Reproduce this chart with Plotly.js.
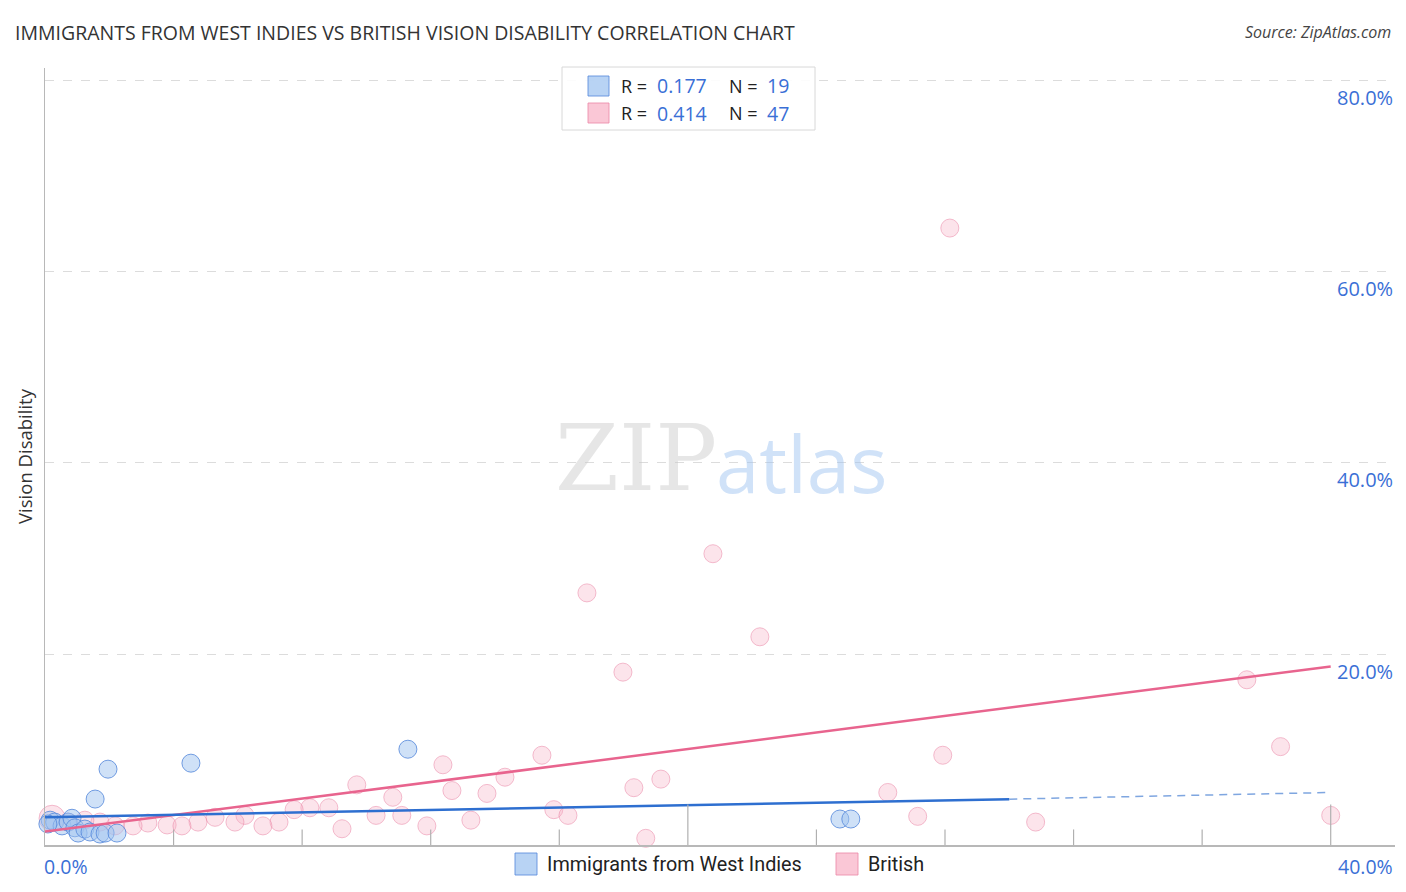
<!DOCTYPE html>
<html>
<head>
<meta charset="utf-8">
<script src="https://cdn.plot.ly/plotly-3.0.1.min.js"></script>
<style>html,body{margin:0;padding:0;background:#fff;}#chart{width:1406px;height:892px;}</style>
</head>
<body>
<div id="chart"></div>
<script>
// ---- data (percent) ----
const seriesNames = ["Immigrants from West Indies", "British"];
const rValues = ["0.177", "0.414"];
const nValues = ["19", "47"];

const blueX = [1.96, 4.54, 1.56, 11.29, 24.73, 25.07, 0.16, 0.30, 0.53, 0.72, 0.84, 0.93, 1.03, 1.24, 1.40, 1.71, 1.87, 2.24, 0.09];
const blueY = [7.94, 8.57, 4.81, 10.03, 2.72, 2.72, 2.6, 2.4, 2.0, 2.4, 2.8, 1.8, 1.25, 1.67, 1.36, 1.15, 1.25, 1.25, 2.2];

const pinkX = [28.15, 20.78, 16.86, 22.24, 17.98, 37.39, 38.44, 27.93, 15.46, 12.38, 14.31, 19.16, 9.70, 12.66, 18.32, 13.75, 10.82, 26.22, 8.83, 8.24, 7.75, 15.83, 10.30, 11.10, 16.27, 27.15, 40.00, 6.22, 5.29, 13.25, 30.82, 4.76, 5.91, 7.28, 6.78, 3.20, 3.80, 4.26, 2.74, 2.18, 9.24, 11.88, 18.69, 1.71, 1.24, 0.22, 0.72];
const pinkY = [64.6, 30.5, 26.4, 21.8, 18.1, 17.3, 10.3, 9.4, 9.4, 8.4, 7.1, 6.9, 6.3, 5.7, 6.0, 5.4, 5.0, 5.5, 3.9, 3.9, 3.7, 3.7, 3.1, 3.1, 3.1, 3.0, 3.1, 3.1, 2.9, 2.6, 2.4, 2.4, 2.4, 2.4, 2.0, 2.3, 2.1, 2.0, 2.0, 2.0, 1.7, 2.0, 0.7, 2.4, 2.6, 2.8, 2.4];

const blueTrendX = [0, 30];
const blueTrendY = [2.9, 4.8];
const blueTrendDashX = [30, 40];
const blueTrendDashY = [4.8, 5.5];
const pinkTrendX = [0, 40];
const pinkTrendY = [1.4, 18.7];

const yTickVals = [20, 40, 60, 80];
const yTickText = ["20.0%", "40.0%", "60.0%", "80.0%"];
const xTickVals = [4, 8, 12, 16, 20, 24, 28, 32, 36, 40];
const xEndLabels = ["0.0%", "40.0%"];

// ---- styles ----
const BLUE_FILL = "rgba(160,196,240,0.5)";
const BLUE_LINE = "rgba(90,140,220,0.85)";
const PINK_FILL = "rgba(248,180,200,0.5)";
const PINK_LINE = "rgba(236,140,170,0.85)";
const TEXT_BLUE = "#3a6fd6";
const bigPinkIndex = 45;

const traces = [
  {x: pinkX, y: pinkY, type: "scatter", mode: "markers", cliponaxis: false, hoverinfo: "skip",
   marker: {size: pinkX.map((v, i) => i === bigPinkIndex ? 26 : 18), color: PINK_FILL, line: {color: PINK_LINE, width: 1}}},
  {x: blueX, y: blueY, type: "scatter", mode: "markers", cliponaxis: false, hoverinfo: "skip",
   marker: {size: 18, color: BLUE_FILL, line: {color: BLUE_LINE, width: 1}}},
  {x: pinkTrendX, y: pinkTrendY, type: "scatter", mode: "lines", hoverinfo: "skip",
   line: {color: "#e8648e", width: 2.5}},
  {x: blueTrendX, y: blueTrendY, type: "scatter", mode: "lines", hoverinfo: "skip",
   line: {color: "#2e6fd0", width: 2.5}},
  {x: blueTrendDashX, y: blueTrendDashY, type: "scatter", mode: "lines", hoverinfo: "skip",
   line: {color: "#7fa6e0", width: 1.5, dash: "8px,6px"}}
];

const shapes = [];
const annotations = [];

// x tick marks
xTickVals.forEach(v => {
  const tall = (v === 20 || v === 40);
  shapes.push({type: "line", xref: "x", yref: "paper", x0: v, x1: v, y0: 0, y1: tall ? 0.052 : 0.02,
    line: {color: "#b0b0b0", width: 1.2}});
});
// y labels (inside, below grid line)
yTickVals.forEach((v, i) => {
  annotations.push({xref: "paper", yref: "y", x: 1, y: v, xanchor: "right", yanchor: "middle", yshift: -17,
    text: yTickText[i], showarrow: false, font: {family: "Open Sans, sans-serif", size: 20, color: TEXT_BLUE}});
});
// x end labels
annotations.push({xref: "paper", yref: "paper", x: -0.002, y: 0, xanchor: "left", yanchor: "top", yshift: -6,
  text: xEndLabels[0], showarrow: false, font: {family: "Open Sans, sans-serif", size: 19.5, color: TEXT_BLUE}});
annotations.push({xref: "paper", yref: "paper", x: 1, y: 0, xanchor: "right", yanchor: "top", yshift: -6,
  text: xEndLabels[1], showarrow: false, font: {family: "Open Sans, sans-serif", size: 19.5, color: TEXT_BLUE}});

// title & source
annotations.push({xref: "paper", yref: "paper", x: -0.0237, y: 1.0, xanchor: "left", yanchor: "bottom", yshift: 20,
  text: "IMMIGRANTS FROM WEST INDIES VS BRITISH VISION DISABILITY CORRELATION CHART", showarrow: false,
  font: {family: "Open Sans, sans-serif", size: 19.5, color: "#333"}});
annotations.push({xref: "paper", yref: "paper", x: 0.9985, y: 1.0, xanchor: "right", yanchor: "bottom", yshift: 23,
  text: "<i>Source: ZipAtlas.com</i>", showarrow: false,
  font: {family: "Open Sans, sans-serif", size: 16, color: "#444"}});

// watermark
annotations.push({xref: "paper", yref: "paper", x: 0.4993, y: 0.498, xanchor: "right", yanchor: "middle",
  text: "ZIP", showarrow: false, font: {family: "DejaVu Serif, Liberation Serif, serif", size: 92, color: "rgba(200,200,200,0.45)"}});
annotations.push({xref: "paper", yref: "paper", x: 0.4955, y: 0.492, xanchor: "left", yanchor: "middle",
  text: "atlas", showarrow: false, font: {family: "Open Sans, sans-serif", size: 78, color: "rgba(150,190,240,0.45)"}});

// top legend box
shapes.push({type: "rect", xref: "paper", yref: "paper", x0: (562-45)/1350, x1: (815-45)/1350, y0: (845-130)/777, y1: (845-67)/777,
  line: {color: "#d8d8d8", width: 1}, fillcolor: "rgba(255,255,255,0.9)"});
const legRowsY = [86, 113];
const legFill = [BLUE_FILL.replace("0.5)", "0.75)"), PINK_FILL.replace("0.5)", "0.75)")];
const legLine = [BLUE_LINE, PINK_LINE];
legRowsY.forEach((py, i) => {
  shapes.push({type: "rect", xref: "paper", yref: "paper", x0: (588-45)/1350, x1: (609-45)/1350,
    y0: (845-(py+10))/777, y1: (845-(py-10))/777, line: {color: legLine[i], width: 1}, fillcolor: legFill[i]});
  annotations.push({xref: "paper", yref: "paper", x: (619-45)/1350, y: (845-py)/777, xanchor: "left", yanchor: "middle",
    text: "R = ", showarrow: false, font: {family: "Open Sans, sans-serif", size: 18, color: "#222"}});
  annotations.push({xref: "paper", yref: "paper", x: (655-45)/1350, y: (845-py)/777, xanchor: "left", yanchor: "middle",
    text: rValues[i], showarrow: false, font: {family: "Open Sans, sans-serif", size: 19.5, color: TEXT_BLUE}});
  annotations.push({xref: "paper", yref: "paper", x: (727-45)/1350, y: (845-py)/777, xanchor: "left", yanchor: "middle",
    text: "N = ", showarrow: false, font: {family: "Open Sans, sans-serif", size: 18, color: "#222"}});
  annotations.push({xref: "paper", yref: "paper", x: (791-45)/1350, y: (845-py)/777, xanchor: "right", yanchor: "middle",
    text: nValues[i], showarrow: false, font: {family: "Open Sans, sans-serif", size: 19.5, color: TEXT_BLUE}});
});

// bottom legend
const botSq = [515, 836];
const botTx = [545, 866];
botSq.forEach((px, i) => {
  shapes.push({type: "rect", xref: "paper", yref: "paper", x0: (px-45)/1350, x1: (px+22-45)/1350,
    y0: (845-875)/777, y1: (845-853)/777, line: {color: legLine[i], width: 1}, fillcolor: legFill[i]});
  annotations.push({xref: "paper", yref: "paper", x: (botTx[i]-45)/1350, y: (845-864)/777, xanchor: "left", yanchor: "middle",
    text: seriesNames[i], showarrow: false, font: {family: "Roboto, sans-serif", size: 19.8, color: "#222"}});
});

const layout = {
  width: 1406, height: 892,
  margin: {l: 45, r: 11, t: 68, b: 47, pad: 0},
  paper_bgcolor: "#fff", plot_bgcolor: "#fff",
  showlegend: false,
  xaxis: {range: [0, 42], showgrid: false, zeroline: false, showticklabels: false, ticks: "",
    showline: true, linecolor: "#b8b8b8", linewidth: 1.5, fixedrange: true},
  yaxis: {range: [0, 81.36], tickvals: yTickVals, showticklabels: false, ticks: "",
    showgrid: true, gridcolor: "#dcdcdc", griddash: "dash", gridwidth: 1, zeroline: false,
    showline: true, linecolor: "#b8b8b8", linewidth: 1.5, fixedrange: true,
    title: {text: "Vision Disability", font: {family: "Open Sans, sans-serif", size: 18.5, color: "#333"}, standoff: 6}},
  shapes: shapes,
  annotations: annotations
};

Plotly.newPlot("chart", traces, layout, {displayModeBar: false, staticPlot: true});
</script>
</body>
</html>
